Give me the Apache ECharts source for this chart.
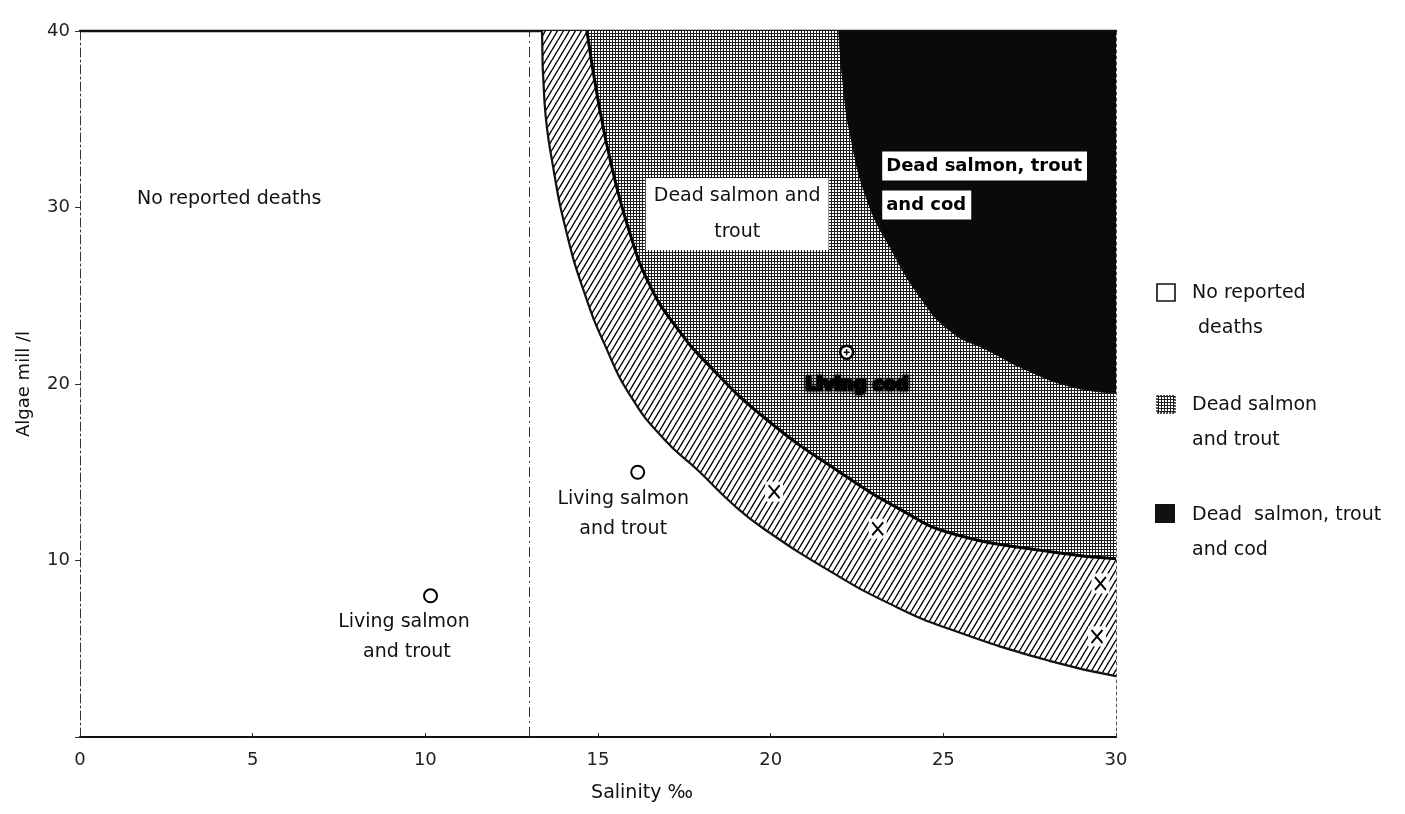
<!DOCTYPE html>
<html>
<head>
<meta charset="utf-8">
<title>Algae density, salinity and fish deaths</title>
<script src="https://cdn.jsdelivr.net/npm/echarts@6/dist/echarts.min.js"></script>
<style>
  html, body { margin: 0; padding: 0; background: #fff; }
  #chart { width: 1405px; height: 814px; }
</style>
</head>
<body>
<div id="chart"></div>
<script>
// Boundaries of the mortality zones, [salinity ‰, algae mill/l]
const hatchEdge = [
  [13.38, 40], [13.45, 36], [13.7, 32.3], [14.1, 28.5], [14.6, 25.2],
  [15.2, 22.2], [15.95, 19.3], [16.9, 16.9], [17.9, 15.1], [18.9, 13.2],
  [19.8, 11.8], [21.8, 9.3], [23.5, 7.5], [25.2, 6.1], [28.1, 4.3], [30, 3.45]
];
const salmonEdge = [
  [14.68, 40], [15.0, 36.1], [15.4, 32.3], [15.93, 28.5], [16.5, 25.6],
  [17.2, 23.4], [18.24, 21.0], [19.9, 17.96], [22.0, 15.0], [23.75, 12.9],
  [25.2, 11.56], [28.1, 10.5], [30, 10.1]
];
const codEdge = [
  [21.97, 40], [22.1, 37], [22.3, 34.2], [22.8, 30.4], [23.5, 27.6],
  [24.3, 25.0], [25.2, 23.0], [26.3, 21.9], [27.4, 20.8], [28.8, 19.8], [30, 19.5]
];

// Observations
const livingSalmon = [[10.15, 8.0], [16.15, 15.0]];
const livingCod = [[22.2, 21.8]];
const deadFish = [[20.1, 13.9], [23.1, 11.8], [29.55, 8.7], [29.45, 5.7]];

// Freshwater limit (dashed vertical line)
const salinityLimit = 13;

// Text placed in the plot, [salinity, algae, text]
const plainNotes = [
  [1.65, 30.5, 'No reported deaths']
];
const centredNotes = [
  [9.38, 5.65, 'Living salmon\n and trout'],
  [15.73, 12.63, 'Living salmon\nand trout']
];
const boxedNotes = [
  [19.03, 29.63, 'Dead salmon and\ntrout']
];
const codNotes = [
  [23.23, 32.35, 'Dead salmon, trout'],
  [23.23, 30.14, 'and cod']
];
const smudgedNotes = [
  [22.5, 19.94, 'Living cod']
];

// Legend entries
const legendItems = [
  ['No reported', ' deaths'],
  ['Dead salmon', 'and trout'],
  ['Dead  salmon, trout', 'and cod']
];

const FONT = '"DejaVu Sans", "Liberation Sans", sans-serif';

// Steep single-hatch tile
function makeHatch() {
  const w = 6, h = 10;
  const c = document.createElement('canvas');
  c.width = w; c.height = h;
  const g = c.getContext('2d');
  g.fillStyle = '#fff';
  g.fillRect(0, 0, w, h);
  g.strokeStyle = '#000';
  g.lineWidth = 1.4;
  g.beginPath();
  g.moveTo(-w, h); g.lineTo(0, 0);
  g.moveTo(0, h); g.lineTo(w, 0);
  g.moveTo(w, h); g.lineTo(2 * w, 0);
  g.stroke();
  return c;
}

// Fine screen-dot tile
function makeStipple() {
  const c = document.createElement('canvas');
  c.width = 3; c.height = 3;
  const g = c.getContext('2d');
  g.fillStyle = '#fff';
  g.fillRect(0, 0, 3, 3);
  g.fillStyle = '#1e1e1e';
  g.fillRect(0, 0, 3, 1);
  g.fillRect(0, 0, 1, 3);
  return c;
}

const hatch = { image: makeHatch(), repeat: 'repeat' };
const stipple = { image: makeStipple(), repeat: 'repeat' };

const chart = echarts.init(document.getElementById('chart'), null, { renderer: 'canvas' });

function noteSeries(name, notes, labelStyle, z) {
  return {
    name: name,
    type: 'scatter',
    z: z,
    symbolSize: 0,
    silent: true,
    itemStyle: { opacity: 1 },
    data: notes.map(n => ({ value: [n[0], n[1]], name: n[2] })),
    label: Object.assign({
      show: true,
      position: 'inside',
      formatter: p => p.name,
      fontFamily: FONT,
      color: '#111'
    }, labelStyle)
  };
}

const legendGraphics = [];
const legendY = [293, 405, 515];
legendItems.forEach((item, i) => {
  const y = legendY[i];
  let icon;
  if (i === 0) {
    icon = { type: 'rect', shape: { x: 1157, y: y - 9, width: 18, height: 17 },
      style: { fill: '#fff', stroke: '#111', lineWidth: 1.6 } };
  } else if (i === 1) {
    icon = { type: 'rect', shape: { x: 1157, y: y - 9, width: 18, height: 17 },
      style: { fill: stipple, stroke: '#222', lineWidth: 1.4, lineDash: [2, 1] } };
  } else {
    icon = { type: 'rect', shape: { x: 1155, y: y - 11, width: 20, height: 19 },
      style: { fill: '#111' } };
  }
  legendGraphics.push(icon);
  item.forEach((line, k) => {
    legendGraphics.push({
      type: 'text',
      x: 1192, y: y + k * 35,
      style: {
        text: line, font: '19px ' + FONT, fill: '#111',
        textAlign: 'left', textVerticalAlign: 'middle', verticalAlign: 'middle'
      }
    });
  });
});

const smoothness = 0.5;

const option = {
  animation: false,
  backgroundColor: '#fff',
  grid: { left: 80, right: 289, top: 31, bottom: 77, containLabel: false },
  xAxis: [{
    type: 'value', min: 0, max: 30, interval: 5,
    name: 'Salinity ‰', nameLocation: 'middle', nameGap: 47,
    nameTextStyle: { fontFamily: FONT, fontSize: 19, color: '#111', padding: [0, 0, 0, 88] },
    axisLine: { show: true, onZero: false, lineStyle: { color: '#111', width: 2.2 } },
    axisTick: { show: true, inside: true, length: 4, lineStyle: { color: '#333' } },
    axisLabel: { fontFamily: FONT, fontSize: 18, color: '#222', margin: 14 },
    splitLine: { show: false }
  }, {
    type: 'value', min: 0, max: 30, position: 'top',
    axisLine: { show: true, onZero: false, lineStyle: { color: '#111', width: 2.4 } },
    axisTick: { show: false }, axisLabel: { show: false }, splitLine: { show: false }
  }],
  yAxis: [{
    type: 'value', min: 0, max: 40, interval: 10,
    name: 'Algae mill /l', nameLocation: 'middle', nameGap: 47, nameRotate: 90,
    nameTextStyle: { fontFamily: FONT, fontSize: 18, color: '#111' },
    axisLine: { show: true, onZero: false, lineStyle: { color: '#333', width: 1, type: [9, 3, 2, 3] } },
    axisTick: { show: true, length: 5, lineStyle: { color: '#333' } },
    axisLabel: {
      fontFamily: FONT, fontSize: 18, color: '#222', margin: 10,
      formatter: v => (v === 0 ? '' : String(v))
    },
    splitLine: { show: false }
  }, {
    type: 'value', min: 0, max: 40, position: 'right',
    axisLine: { show: true, onZero: false, lineStyle: { color: '#555', width: 1, type: [3, 3] } },
    axisTick: { show: false }, axisLabel: { show: false }, splitLine: { show: false }
  }],
  graphic: legendGraphics,
  series: [
    {
      name: 'Living salmon and trout band',
      type: 'line', z: 2, symbol: 'none', silent: true,
      smooth: smoothness,
      data: hatchEdge,
      lineStyle: { color: '#111', width: 2.2 },
      areaStyle: { color: hatch, opacity: 1, origin: 'end' },
      markLine: {
        silent: true, symbol: 'none', label: { show: false },
        lineStyle: { color: '#333', width: 1, type: [10, 4, 2, 4] },
        data: [{ xAxis: salinityLimit }]
      }
    },
    {
      name: 'Dead salmon and trout',
      type: 'line', z: 3, symbol: 'none', silent: true,
      smooth: smoothness,
      data: salmonEdge,
      lineStyle: { color: '#000', width: 3 },
      areaStyle: { color: stipple, opacity: 1, origin: 'end' }
    },
    {
      name: 'Dead salmon, trout and cod',
      type: 'line', z: 4, symbol: 'none', silent: true,
      smooth: smoothness,
      data: codEdge,
      lineStyle: { color: '#0a0a0a', width: 1 },
      areaStyle: { color: '#0a0a0a', opacity: 1, origin: 'end' }
    },
    {
      name: 'Dead fish background',
      type: 'scatter', z: 5, silent: true,
      symbol: 'rect', symbolSize: [18, 20],
      itemStyle: { color: '#fff', opacity: 1 },
      data: deadFish
    },
    {
      name: 'Dead fish',
      type: 'scatter', z: 6, silent: true,
      symbol: 'path://M0,0L11,13M11,0L0,13', symbolSize: [11, 13],
      itemStyle: { color: 'rgba(0,0,0,0)', borderColor: '#000', borderWidth: 2, opacity: 1 },
      data: deadFish
    },
    {
      name: 'Living salmon and trout',
      type: 'scatter', z: 6, silent: true,
      symbol: 'circle', symbolSize: 13,
      itemStyle: { color: '#fff', borderColor: '#000', borderWidth: 2, opacity: 1 },
      data: livingSalmon
    },
    {
      name: 'Living cod',
      type: 'scatter', z: 6, silent: true,
      symbol: 'circle', symbolSize: 13,
      itemStyle: { color: '#fff', borderColor: '#000', borderWidth: 2.6, opacity: 1 },
      data: livingCod
    },
    {
      name: 'Living cod centre',
      type: 'scatter', z: 7, silent: true,
      symbol: 'path://M5,0L5,10M0,5L10,5', symbolSize: 6,
      itemStyle: { color: 'rgba(0,0,0,0)', borderColor: '#000', borderWidth: 1.5, opacity: 1 },
      data: livingCod
    },
    noteSeries('Zone name', plainNotes, {
      position: 'right', distance: 0, fontSize: 19, align: 'left'
    }, 8),
    noteSeries('Observation notes', centredNotes, {
      fontSize: 19, lineHeight: 30, align: 'center'
    }, 8),
    noteSeries('Salmon zone name', boxedNotes, {
      fontSize: 19, lineHeight: 36, align: 'center',
      backgroundColor: '#fff', padding: [0, 8, 0, 8]
    }, 8),
    noteSeries('Cod zone name', codNotes, {
      position: 'right', distance: 0, fontSize: 18, fontWeight: 'bold',
      align: 'left', lineHeight: 26, color: '#000',
      backgroundColor: '#fff', padding: [2, 5, 1, 4]
    }, 8),
    noteSeries('Living cod note', smudgedNotes, {
      fontSize: 18, fontWeight: 'bold', align: 'center', color: '#000',
      textBorderColor: '#000', textBorderWidth: 2.5,
      textShadowColor: 'rgba(0,0,0,0.8)', textShadowBlur: 4
    }, 8)
  ]
};

chart.setOption(option);
</script>
</body>
</html>
